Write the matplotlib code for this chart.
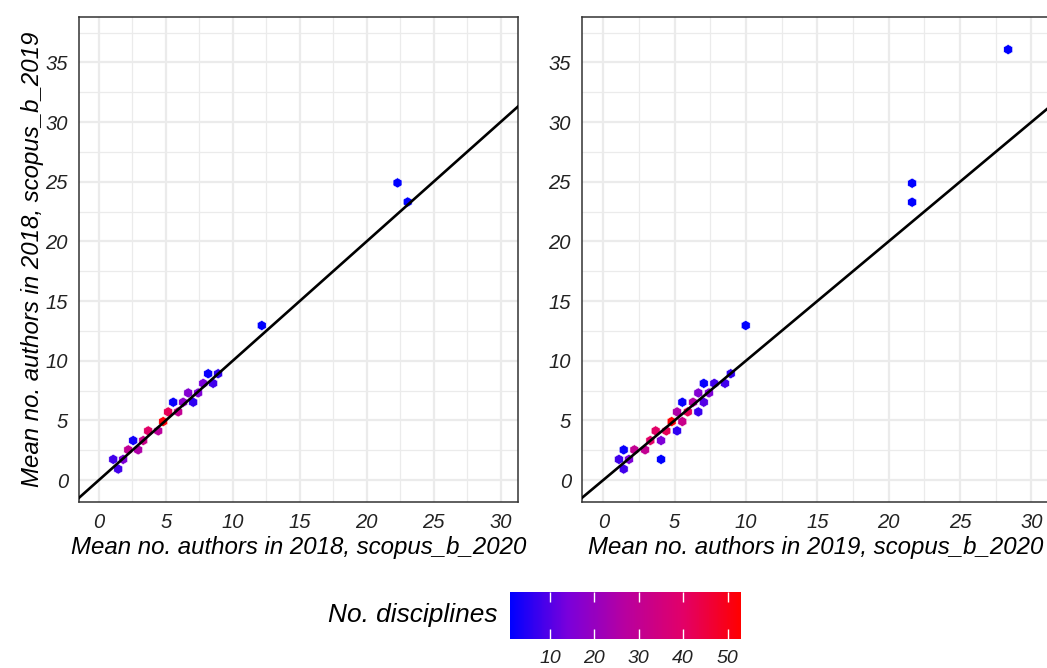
import numpy as np
import matplotlib.pyplot as plt
from matplotlib.colors import LinearSegmentedColormap, Normalize

plt.rcParams['font.family'] = ['Liberation Sans', 'DejaVu Sans']

# hex centres and counts (no. disciplines)
x_2018 = [1.07, 1.44, 1.81, 2.19, 2.56, 2.93, 3.31, 3.68, 4.43, 4.80, 5.17, 5.55,
          5.92, 6.29, 6.67, 7.04, 7.41, 7.79, 8.16, 8.53, 8.90, 12.16, 22.3, 23.06]
y_2018 = [1.73, 0.92, 1.73, 2.53, 3.31, 2.53, 3.31, 4.12, 4.12, 4.90, 5.71, 6.52,
          5.71, 6.52, 7.30, 6.52, 7.30, 8.10, 8.91, 8.10, 8.91, 12.95, 24.9, 23.3]
n_2018 = [8, 8, 15, 30, 3, 25, 32, 40, 28, 52, 42, 2,
          30, 18, 16, 6, 15, 14, 2, 8, 6, 1, 1, 1]

x_2019 = [1.10, 1.43, 1.43, 1.80, 2.18, 2.93, 3.30, 3.67, 4.05, 4.05, 4.42, 4.79,
          5.17, 5.17, 5.54, 5.54, 5.92, 6.29, 6.66, 6.66, 7.04, 7.04, 7.41, 7.78,
          8.53, 8.93, 9.98, 21.64, 21.64, 28.37]
y_2019 = [1.73, 2.53, 0.92, 1.73, 2.53, 2.53, 3.31, 4.12, 3.31, 1.73, 4.12, 4.90,
          5.71, 4.12, 6.52, 4.90, 5.71, 6.52, 7.30, 5.71, 8.10, 6.52, 7.30, 8.10,
          8.10, 8.91, 12.95, 24.87, 23.28, 36.07]
n_2019 = [8, 2, 8, 15, 30, 30, 40, 40, 15, 1, 42, 52,
          25, 6, 2, 32, 42, 26, 16, 7, 2, 10, 15, 8,
          8, 6, 1, 1, 1, 1]

xlabels = ['Mean no. authors in 2018, scopus_b_2020', 'Mean no. authors in 2019, scopus_b_2020']
ylabel = 'Mean no. authors in 2018, scopus_b_2019'

cmap = LinearSegmentedColormap.from_list(
    'br', [(0.0, '#0000FF'), (0.25, '#7A00DB'), (0.5, '#B8009F'),
           (0.75, '#E20068'), (1.0, '#FF0000')])
norm = Normalize(1, 53)

fig = plt.figure(figsize=(10.47, 6.68), dpi=100)
ax1 = fig.add_axes([79 / 1047, 166 / 668, 439 / 1047, 485 / 668])
ax2 = fig.add_axes([582 / 1047, 166 / 668, 468 / 1047, 485 / 668])

for ax, xs, ys, ns, xl in [(ax1, x_2018, y_2018, n_2018, xlabels[0]),
                           (ax2, x_2019, y_2019, n_2019, xlabels[1])]:
    ax.set_xlim(-1.49, 31.3)
    ax.set_ylim(-1.84, 38.8)
    ax.set_xticks(np.arange(0, 31, 5))
    ax.set_yticks(np.arange(0, 36, 5))
    ax.set_xticks(np.arange(2.5, 31, 5), minor=True)
    ax.set_yticks(np.arange(2.5, 38, 5), minor=True)
    ax.grid(which='major', color='#ebebeb', lw=1.6)
    ax.grid(which='minor', color='#ebebeb', lw=0.9)
    ax.set_axisbelow(True)
    ax.tick_params(which='both', length=0, pad=8, labelsize=14.5, labelcolor='#222222')
    for lab in ax.get_xticklabels() + ax.get_yticklabels():
        lab.set_fontstyle('italic')
    for s in ax.spines.values():
        s.set_color('#333333')
        s.set_linewidth(1.1)
    ax.scatter(xs, ys, c=ns, cmap=cmap, norm=norm, marker='h', s=55,
               edgecolors='white', linewidths=0.4, zorder=2)
    ax.axline((0, 0), slope=1, color='black', lw=1.9, zorder=3)
    ax.set_xlabel(xl, fontsize=17.3, fontstyle='italic', labelpad=3)

ax1.set_ylabel(ylabel, fontsize=17.3, fontstyle='italic', labelpad=1)

cax = fig.add_axes([510 / 1047, 29 / 668, 231 / 1047, 47 / 668])
sm = plt.cm.ScalarMappable(norm=norm, cmap=cmap)
cb = fig.colorbar(sm, cax=cax, orientation='horizontal', ticks=[10, 20, 30, 40, 50])
cb.outline.set_visible(False)
cax.tick_params(direction='in', color='white', length=7, width=1,
                top=True, bottom=True, labelsize=14, pad=8, labelcolor='#222222')
for lab in cax.get_xticklabels():
    lab.set_fontstyle('italic')
fig.text(497 / 1047, 53 / 668, 'No. disciplines', fontsize=18.9, fontstyle='italic',
         ha='right', va='center')

fig.savefig('out.png', dpi=100)
